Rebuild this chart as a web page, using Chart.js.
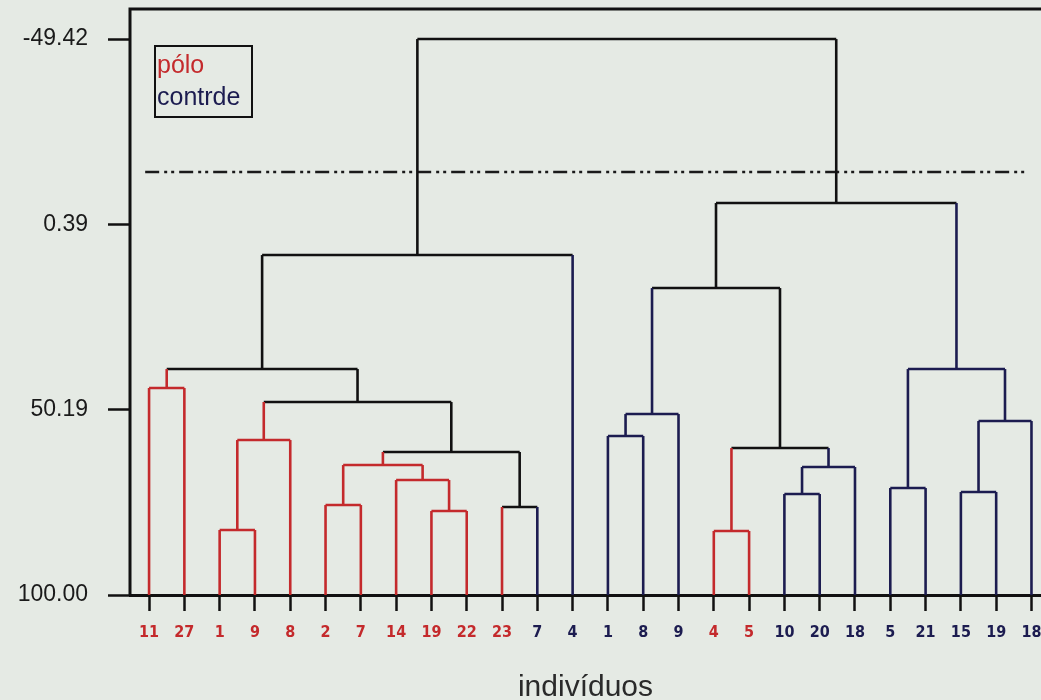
<!DOCTYPE html>
<html>
<head>
<meta charset="utf-8">
<title>Dendrograma</title>
<script src="https://cdn.jsdelivr.net/npm/chart.js@4.4.0/dist/chart.umd.min.js"></script>
<style>
  html, body { margin: 0; padding: 0; background: #e5eae4; }
  #wrap { width: 1041px; height: 700px; }
</style>
</head>
<body>
<div id="wrap"><canvas id="dendro"></canvas></div>
<script>
// leaves, left to right
var leafLabels = ['11', '27', '1', '9', '8', '2', '7', '14', '19', '22', '23', '7', '4',
                  '1', '8', '9', '4', '5', '10', '20', '18', '5', '21', '15', '19', '18'];
var leafGroups = ['p', 'p', 'p', 'p', 'p', 'p', 'p', 'p', 'p', 'p', 'p', 'c', 'c',
                  'c', 'c', 'c', 'p', 'p', 'c', 'c', 'c', 'c', 'c', 'c', 'c', 'c'];

// merges: node 26 + i joins mergeLeft[i] and mergeRight[i] at mergeHeight[i]
var mergeLeft   = [0, 2, 27, 5, 8, 7, 29, 10, 32, 28, 26, 36, 13, 38, 16, 18, 41, 40, 39, 21, 23, 46, 45, 44, 37];
var mergeRight  = [1, 3, 4, 6, 9, 30, 31, 11, 33, 34, 35, 12, 14, 15, 17, 19, 20, 42, 43, 22, 24, 25, 47, 48, 49];
var mergeHeight = [44.37, 82.53, 58.35, 75.82, 77.43, 69.10, 65.07, 76.35, 61.57, 48.13, 39.27, 8.63,
                   57.27, 51.36, 82.80, 72.86, 65.60, 60.50, 17.50, 71.25, 72.32, 53.24, 39.27, -5.35, -49.42];

var yTicks = [-49.42, 0.39, 50.19, 100.00];
var cutLevel = -13.68;
var legendNames = ['pólo', 'contrde'];

var colors = { p: '#c42a2c', c: '#1c1c50', m: '#111111' };

document.addEventListener("DOMContentLoaded", function() {
  var nLeaves = leafLabels.length;
  var nodeX = [];
  var nodeY = [];
  var nodeGroup = [];

  for (var i = 0; i < nLeaves; i++) {
    nodeX.push(i);
    nodeY.push(100);
    nodeGroup.push(leafGroups[i]);
  }

  var datasets = [];

  function seg(x1, y1, x2, y2, color) {
    datasets.push({
      data: [{ x: x1, y: y1 }, { x: x2, y: y2 }],
      borderColor: color,
      borderWidth: 2.6,
      pointRadius: 0,
      fill: false
    });
  }

  for (var m = 0; m < mergeHeight.length; m++) {
    var a = mergeLeft[m], b = mergeRight[m], h = mergeHeight[m];
    var g = nodeGroup[a] === nodeGroup[b] ? nodeGroup[a] : 'm';
    seg(nodeX[a], nodeY[a], nodeX[a], h, colors[nodeGroup[a]]);
    seg(nodeX[b], nodeY[b], nodeX[b], h, colors[nodeGroup[b]]);
    seg(nodeX[a], h, nodeX[b], h, colors[g]);
    nodeX.push((nodeX[a] + nodeX[b]) / 2);
    nodeY.push(h);
    nodeGroup.push(g);
  }

  // cut line
  datasets.push({
    data: [{ x: -0.11, y: cutLevel }, { x: 24.83, y: cutLevel }],
    borderColor: '#1a1a1a',
    borderWidth: 2.6,
    borderDash: [14, 5, 3, 4, 3, 5],
    pointRadius: 0,
    fill: false
  });

  var framePlugin = {
    id: 'frame',
    afterDraw: function(chart) {
      var c = chart.ctx, area = chart.chartArea;
      c.save();
      c.strokeStyle = '#111';
      c.lineWidth = 3;
      c.beginPath();
      c.moveTo(area.left, area.bottom);
      c.lineTo(area.left, area.top);
      c.lineTo(area.right + 2, area.top);
      c.stroke();

      // legend box
      c.lineWidth = 2;
      c.strokeRect(155, 46, 97, 71);
      c.font = '25px "Liberation Sans", Arial, sans-serif';
      c.textBaseline = 'alphabetic';
      c.textAlign = 'left';
      c.fillStyle = colors.p;
      c.fillText(legendNames[0], 157, 73);
      c.fillStyle = colors.c;
      c.fillText(legendNames[1], 157, 105);
      c.restore();
    }
  };

  new Chart(document.getElementById('dendro'), {
    type: 'line',
    data: { datasets: datasets },
    options: {
      responsive: true,
      maintainAspectRatio: false,
      animation: false,
      events: [],
      layout: { padding: { top: 9, right: 0, left: 0, bottom: 0 } },
      plugins: {
        legend: { display: false },
        tooltip: { enabled: false }
      },
      scales: {
        x: {
          type: 'linear',
          min: -0.54,
          max: 25.27,
          afterFit: function(scale) {
            scale.height = 105;
            scale.paddingLeft = 0;
            scale.paddingRight = 0;
          },
          afterBuildTicks: function(scale) {
            scale.ticks = leafLabels.map(function(l, i) { return { value: i }; });
          },
          ticks: {
            autoSkip: false,
            maxRotation: 0,
            padding: 12,
            font: { family: '"DejaVu Sans Condensed", "Liberation Sans Narrow", sans-serif', size: 16, weight: 'bold' },
            color: function(ctx) { return colors[leafGroups[ctx.tick.value]]; },
            callback: function(value) { return leafLabels[value]; }
          },
          grid: {
            drawOnChartArea: false,
            drawTicks: true,
            tickLength: 16,
            tickWidth: 2.5,
            tickColor: '#111'
          },
          border: { display: true, color: '#111', width: 3 },
          title: {
            display: true,
            text: 'indivíduos',
            color: '#2a2a2a',
            font: { family: '"Liberation Sans", Arial, sans-serif', size: 30 },
            padding: { top: 0, bottom: -6 }
          }
        },
        y: {
          type: 'linear',
          reverse: true,
          min: -57.5,
          max: 100,
          afterFit: function(scale) {
            scale.width = 130;
            scale.paddingTop = 0;
            scale.paddingBottom = 0;
          },
          afterBuildTicks: function(scale) {
            scale.ticks = yTicks.map(function(v) { return { value: v }; });
          },
          ticks: {
            padding: 20,
            color: '#1a1a1a',
            font: { family: '"Liberation Sans", Arial, sans-serif', size: 23 },
            callback: function(value) { return value.toFixed(2); }
          },
          grid: {
            drawOnChartArea: false,
            drawTicks: true,
            tickLength: 22,
            tickWidth: 2.5,
            tickColor: '#111'
          },
          border: { display: false }
        }
      }
    },
    plugins: [framePlugin]
  });
});
</script>
</body>
</html>
